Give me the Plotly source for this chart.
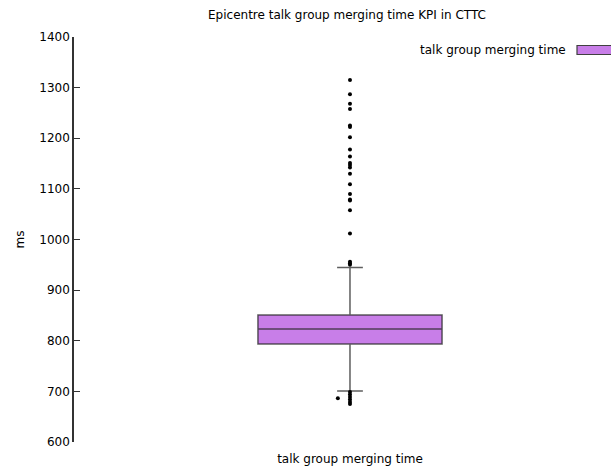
import plotly.graph_objects as go

category = "talk group merging time"
q1 = 793.6
median = 823.0
q3 = 851.0
lower_fence = 700.7
upper_fence = 944.5

outliers_high = [1315, 1287, 1268, 1258, 1225, 1222, 1202, 1178, 1164, 1151, 1147,
                 1142, 1130, 1109, 1090, 1079, 1077, 1058, 1012, 956, 953, 950]
outliers_low = [699, 694, 689, 684, 679, 675]
outlier_offset_x = [0.0] * (len(outliers_high) + len(outliers_low)) + [-0.044]
outlier_vals = outliers_high + outliers_low + [686.3]

fig = go.Figure()
fig.add_trace(go.Box(
    x=[0], q1=[q1], median=[median], q3=[q3],
    lowerfence=[lower_fence], upperfence=[upper_fence],
    width=0.667, whiskerwidth=0.14,
    fillcolor="rgb(200,126,232)",
    line=dict(color="rgba(40,40,40,0.75)", width=1.5),
    showlegend=False, hoverinfo="skip",
))
fig.add_trace(go.Scatter(
    x=outlier_offset_x, y=outlier_vals, mode="markers",
    marker=dict(color="black", size=4),
    showlegend=False,
))

font = dict(family="DejaVu Sans", size=12, color="#202020")
fig.update_layout(
    width=611, height=470,
    margin=dict(l=74, r=0, t=37, b=28),
    paper_bgcolor="white", plot_bgcolor="white",
    font=font,
    title=dict(text="Epicentre talk group merging time KPI in CTTC",
               x=347 / 611, xanchor="center", y=1 - 15 / 470, yanchor="middle",
               font=dict(family="DejaVu Sans", size=12, color="black")),
    xaxis=dict(range=[-1, 0.9457], tickvals=[0], ticktext=[category],
               showline=False, showgrid=False, zeroline=False, ticks="",
               ticklabelstandoff=8,
               tickfont=dict(family="DejaVu Sans", size=12, color="black")),
    yaxis=dict(range=[600, 1400], dtick=100, tick0=600,
               showline=True, linecolor="#333333", linewidth=1.5,
               ticks="inside", ticklen=6, tickcolor="#333333", tickwidth=1,
               showgrid=False, zeroline=False,
               title=dict(text="ms", standoff=12,
                          font=dict(family="DejaVu Sans", size=12, color="black")),
               tickfont=dict(family="DejaVu Sans", size=12, color="black")),
    showlegend=False,
)
fig.add_annotation(text=category, xref="paper", yref="paper",
                   x=(568 - 74) / 537, xanchor="right",
                   y=1 + (37 - 50) / 405, yanchor="middle",
                   showarrow=False,
                   font=dict(family="DejaVu Sans", size=12, color="black"))
fig.add_shape(type="rect", xref="paper", yref="paper",
              x0=(577 - 74) / 537, x1=(615 - 74) / 537,
              y0=1 + (37 - 45.5) / 405, y1=1 + (37 - 54.5) / 405,
              fillcolor="rgb(200,126,232)", line=dict(color="#404040", width=1.2))
fig.write_html("out.html", config={"displayModeBar": False},
               post_script="document.body.style.margin='0';document.body.style.overflow='hidden';")
